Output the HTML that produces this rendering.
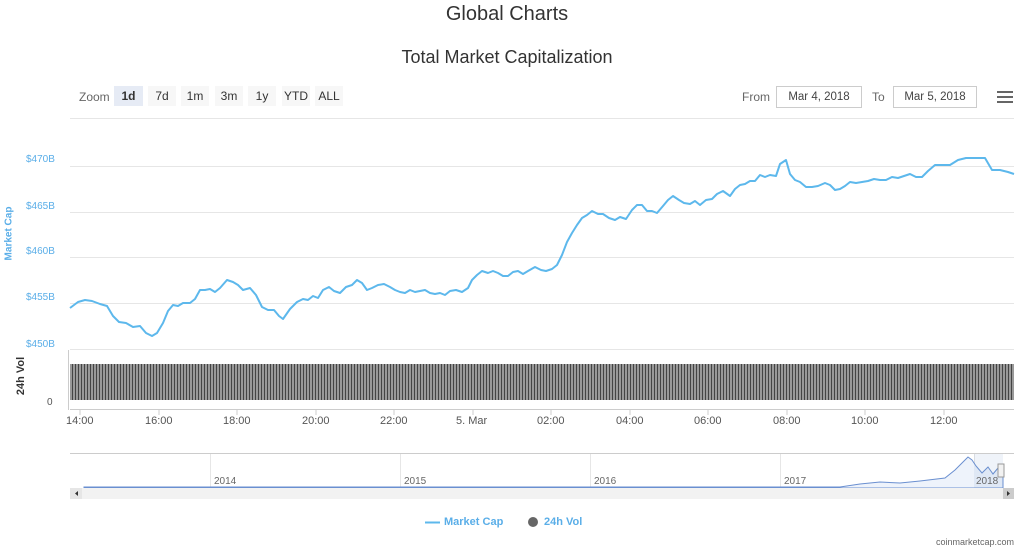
<!DOCTYPE html><html><head><style>
body{margin:0;width:1024px;height:549px;background:#fff;font-family:"Liberation Sans",sans-serif;position:relative;overflow:hidden}
.t{position:absolute;white-space:nowrap}
.btn{position:absolute;top:86px;height:20px;background:#f7f7f7;font-size:12px;color:#333;text-align:center;line-height:20px}
.yl{position:absolute;left:26px;font-size:10px;color:#5aaee8}
.xl{position:absolute;top:415px;font-size:11px;color:#555}
.in{position:absolute;top:86px;height:20px;border:1px solid #ccc;font-size:11.5px;color:#444;line-height:20px;text-align:center}
</style></head><body>
<div class="t" style="left:0;width:1014px;text-align:center;top:3px;font-size:20px;color:#333">Global Charts</div>
<div class="t" style="left:0;width:1014px;text-align:center;top:47px;font-size:18px;color:#333">Total Market Capitalization</div>
<div class="t" style="left:79px;top:90px;font-size:12px;color:#666">Zoom</div>
<div class="btn" style="left:114px;width:29px;background:#e6ebf5;font-weight:bold">1d</div>
<div class="btn" style="left:148px;width:28px">7d</div>
<div class="btn" style="left:181px;width:28px">1m</div>
<div class="btn" style="left:215px;width:28px">3m</div>
<div class="btn" style="left:248px;width:28px">1y</div>
<div class="btn" style="left:282px;width:28px">YTD</div>
<div class="btn" style="left:315px;width:28px">ALL</div>
<div class="t" style="left:742px;top:90px;font-size:12px;color:#666">From</div>
<div class="in" style="left:776px;width:84px">Mar 4, 2018</div>
<div class="t" style="left:872px;top:90px;font-size:12px;color:#666">To</div>
<div class="in" style="left:893px;width:82px">Mar 5, 2018</div>
<div style="position:absolute;left:997px;top:91px;width:16px;height:2px;background:#666;box-shadow:0 5px 0 #666,0 10px 0 #666"></div>
<div class="yl" style="top:154px">$470B</div>
<div class="yl" style="top:201px">$465B</div>
<div class="yl" style="top:246px">$460B</div>
<div class="yl" style="top:292px">$455B</div>
<div class="yl" style="top:339px">$450B</div>
<div class="t" style="left:-18px;top:228px;transform:rotate(-90deg);font-size:10px;font-weight:bold;color:#5aaee8">Market Cap</div>
<div class="t" style="left:2px;top:370px;transform:rotate(-90deg);font-size:11px;font-weight:bold;color:#333">24h Vol</div>
<div class="t" style="left:47px;top:397px;font-size:10px;color:#555">0</div>
<svg style="position:absolute;left:0;top:0" width="1024" height="549">
<g stroke="#e6e6e6" stroke-width="1">
<line x1="70" x2="1014" y1="118.5" y2="118.5"/><line x1="70" x2="1014" y1="166.5" y2="166.5"/><line x1="70" x2="1014" y1="212.5" y2="212.5"/><line x1="70" x2="1014" y1="257.5" y2="257.5"/><line x1="70" x2="1014" y1="303.5" y2="303.5"/><line x1="70" x2="1014" y1="349.5" y2="349.5"/>
</g>
<defs><pattern id="b" width="3" height="40" patternUnits="userSpaceOnUse"><rect width="3" height="40" fill="#999"/><rect width="1" height="40" fill="#444"/></pattern></defs>
<rect x="70" y="364" width="944" height="36" fill="url(#b)"/>
<line x1="68.5" x2="68.5" y1="350" y2="410" stroke="#ccc"/>
<line x1="70" x2="1014" y1="409.5" y2="409.5" stroke="#ccc"/>
<polyline fill="none" stroke="#5db8ec" stroke-width="2" stroke-linejoin="round" points="70,308 78,302 85,300 92,301 100,304 107,306 113,316 119,322 126,323 133,327 140,326 146,333 152,336 157,333 163,323 168,311 173,305 178,306 183,303 190,303 195,299 200,290 205,290 210,289 215,292 220,288 227,280 233,282 238,285 243,290 250,288 256,295 262,307 268,310 274,310 279,316 283,319 290,309 297,302 303,299 308,300 313,296 318,298 323,290 329,287 334,291 340,293 346,287 352,285 357,280 362,283 367,290 372,288 378,285 384,284 390,287 395,290 400,292 405,293 410,290 415,292 420,291 425,290 430,293 435,294 440,293 445,295 450,291 456,290 462,292 468,288 472,280 477,275 482,271 488,273 493,271 498,273 503,276 508,276 513,272 518,271 523,274 528,271 535,267 541,270 546,271 552,269 557,265 562,255 567,242 572,233 577,225 582,218 587,215 592,211 598,214 603,214 609,218 615,220 620,217 626,219 632,210 637,205 642,205 647,211 652,211 657,213 663,206 668,200 673,196 679,200 684,203 690,204 695,201 700,205 706,200 712,199 717,194 723,191 730,196 735,189 740,185 745,184 750,181 755,181 760,175 765,177 770,175 776,176 780,164 786,160 790,174 795,180 800,182 806,187 812,187 818,186 825,183 830,185 835,190 840,189 845,186 850,182 856,183 862,182 868,181 874,179 880,180 886,180 892,177 898,178 904,176 910,174 916,177 922,177 928,171 935,165 942,165 950,165 958,160 966,158 975,158 985,158 992,170 1000,170 1008,172 1014,174"/>
<g stroke="#ccc"><line x1="80" x2="80" y1="410" y2="415"/><line x1="159" x2="159" y1="410" y2="415"/><line x1="237" x2="237" y1="410" y2="415"/><line x1="316" x2="316" y1="410" y2="415"/><line x1="394" x2="394" y1="410" y2="415"/><line x1="473" x2="473" y1="410" y2="415"/><line x1="551" x2="551" y1="410" y2="415"/><line x1="630" x2="630" y1="410" y2="415"/><line x1="708" x2="708" y1="410" y2="415"/><line x1="787" x2="787" y1="410" y2="415"/><line x1="865" x2="865" y1="410" y2="415"/><line x1="944" x2="944" y1="410" y2="415"/></g>
<line x1="70" x2="1014" y1="453.5" y2="453.5" stroke="#ccc"/>
<g stroke="#e6e6e6"><line x1="210.5" x2="210.5" y1="454" y2="488"/><line x1="400.5" x2="400.5" y1="454" y2="488"/><line x1="590.5" x2="590.5" y1="454" y2="488"/><line x1="780.5" x2="780.5" y1="454" y2="488"/><line x1="974.5" x2="974.5" y1="454" y2="488"/></g>
<path d="M84,487 L840,487 L860,484 L880,482 L900,483 L920,481 L945,478 L955,470 L963,462 L968,457 L972,460 L976,466 L982,473 L988,467 L993,474 L998,468 L1003,470 L1003,488 L84,488Z" fill="#eef3fb" stroke="#6a8fd0" stroke-width="1"/>
<rect x="974" y="454" width="29" height="34" fill="rgba(102,133,194,0.1)"/>
<rect x="998" y="464" width="6" height="13" fill="#f2f2f2" stroke="#999"/>
<rect x="70" y="488" width="944" height="11" fill="#f2f2f2"/>
<rect x="70" y="488" width="12" height="11" fill="#e6e6e6"/><rect x="1003" y="488" width="11" height="11" fill="#ccc"/>
<path d="M78,491 l-3,2.5 l3,2.5z M1007,491 l3,2.5 l-3,2.5z" fill="#333"/>
<line x1="425" x2="440" y1="522.5" y2="522.5" stroke="#5db8ec" stroke-width="2"/>
<circle cx="533" cy="522" r="5" fill="#666"/>
</svg>
<div class="xl" style="left:66px">14:00</div><div class="xl" style="left:145px">16:00</div><div class="xl" style="left:223px">18:00</div><div class="xl" style="left:302px">20:00</div><div class="xl" style="left:380px">22:00</div><div class="xl" style="left:456px">5. Mar</div><div class="xl" style="left:537px">02:00</div><div class="xl" style="left:616px">04:00</div><div class="xl" style="left:694px">06:00</div><div class="xl" style="left:773px">08:00</div><div class="xl" style="left:851px">10:00</div><div class="xl" style="left:930px">12:00</div>
<div class="t" style="left:214px;top:476px;font-size:10px;color:#666">2014</div>
<div class="t" style="left:404px;top:476px;font-size:10px;color:#666">2015</div>
<div class="t" style="left:594px;top:476px;font-size:10px;color:#666">2016</div>
<div class="t" style="left:784px;top:476px;font-size:10px;color:#666">2017</div>
<div class="t" style="left:976px;top:476px;font-size:10px;color:#666">2018</div>
<div class="t" style="left:444px;top:516px;font-size:11px;font-weight:bold;color:#5aaee8">Market Cap</div>
<div class="t" style="left:544px;top:516px;font-size:11px;font-weight:bold;color:#5aaee8">24h Vol</div>
<div class="t" style="left:936px;top:537px;font-size:9px;color:#666">coinmarketcap.com</div>
</body></html>
